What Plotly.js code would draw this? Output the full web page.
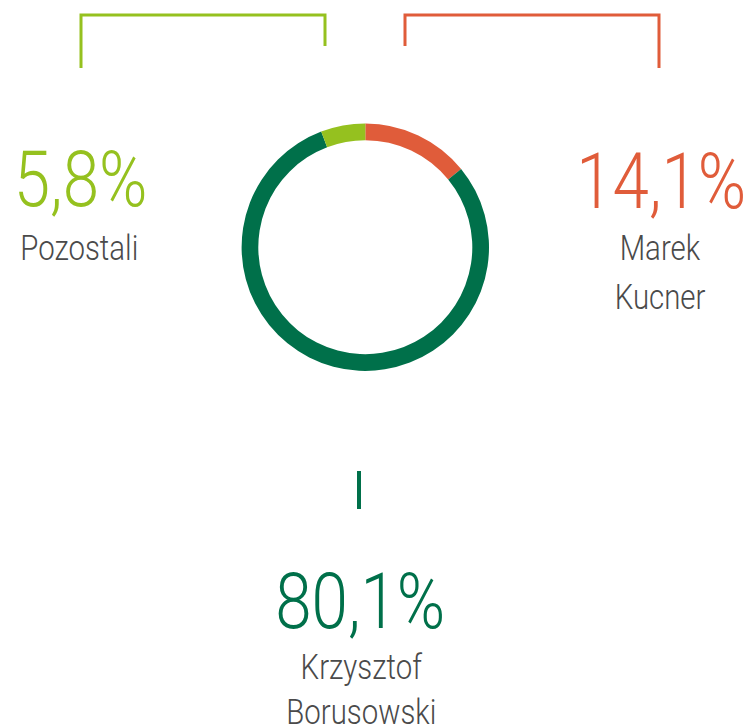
<!DOCTYPE html>
<html><head><meta charset="utf-8">
<script src="https://cdn.plot.ly/plotly-3.0.1.min.js"></script>
<style>
html,body{margin:0;padding:0;background:#fff}
#chart{width:749px;height:727px}
#chart .annotation-text{transform-box:fill-box;transform-origin:center;transform:scaleX(0.84)}
</style>
</head><body><div id="chart"></div>
<script>
// Data
const names = ["Marek Kucner", "Krzysztof Borusowski", "Pozostali"];
const shares = [14.1, 80.1, 5.8];
const colors = ["#E05C3A", "#00704A", "#95C11F"];

const W = 749, H = 727;
const px = x => x / W;
const py = y => 1 - y / H;
const FONT = 'Roboto, "Liberation Sans", sans-serif';

// Label placement (pixel centers): [pctX, pctY, nameX, firstLineY, lineGap]
const place = [
  [661, 181, 660, 248, 49],
  [359.5, 601.5, 361, 667, 45],
  [80.5, 179.5, 79.5, 248, 49]
];

const annotations = [];
names.forEach((n, i) => {
  const p = place[i];
  annotations.push({
    text: shares[i].toFixed(1).replace('.', ',') + '%',
    x: px(p[0]), y: py(p[1]), xref: 'paper', yref: 'paper',
    xanchor: 'center', yanchor: 'middle', showarrow: false,
    font: {family: FONT, size: 78, weight: 300, color: colors[i]}
  });
  n.split(' ').forEach((w, j) => {
    annotations.push({
      text: w,
      x: px(p[2]), y: py(p[3] + j * p[4]), xref: 'paper', yref: 'paper',
      xanchor: 'center', yanchor: 'middle', showarrow: false,
      font: {family: FONT, size: 35, weight: 300, color: '#4a4a4a'}
    });
  });
});

const shapes = [
  {type: 'path', path: `M ${px(81)} ${py(68)} L ${px(81)} ${py(15)} L ${px(325)} ${py(15)} L ${px(325)} ${py(46)}`,
   xref: 'paper', yref: 'paper', line: {color: colors[2], width: 3}},
  {type: 'path', path: `M ${px(405)} ${py(46)} L ${px(405)} ${py(15)} L ${px(659)} ${py(15)} L ${px(659)} ${py(68)}`,
   xref: 'paper', yref: 'paper', line: {color: colors[0], width: 3}},
  {type: 'line', x0: px(359), x1: px(359), y0: py(471), y1: py(509),
   xref: 'paper', yref: 'paper', line: {color: colors[1], width: 4}}
];

const cx = 365.3, cy = 247.2, r = 123.7;
const data = [{
  type: 'pie',
  values: shares,
  labels: names,
  marker: {colors: colors, line: {width: 0}},
  sort: false,
  direction: 'clockwise',
  rotation: 0,
  hole: 0.865,
  textinfo: 'none',
  hoverinfo: 'none',
  showlegend: false,
  domain: {x: [px(cx - r), px(cx + r)], y: [py(cy + r), py(cy - r)]}
}];

const layout = {
  width: W, height: H,
  margin: {l: 0, r: 0, t: 0, b: 0},
  paper_bgcolor: '#fff',
  showlegend: false,
  annotations: annotations,
  shapes: shapes
};

Plotly.newPlot('chart', data, layout, {staticPlot: true, displayModeBar: false});
</script>
</body></html>
